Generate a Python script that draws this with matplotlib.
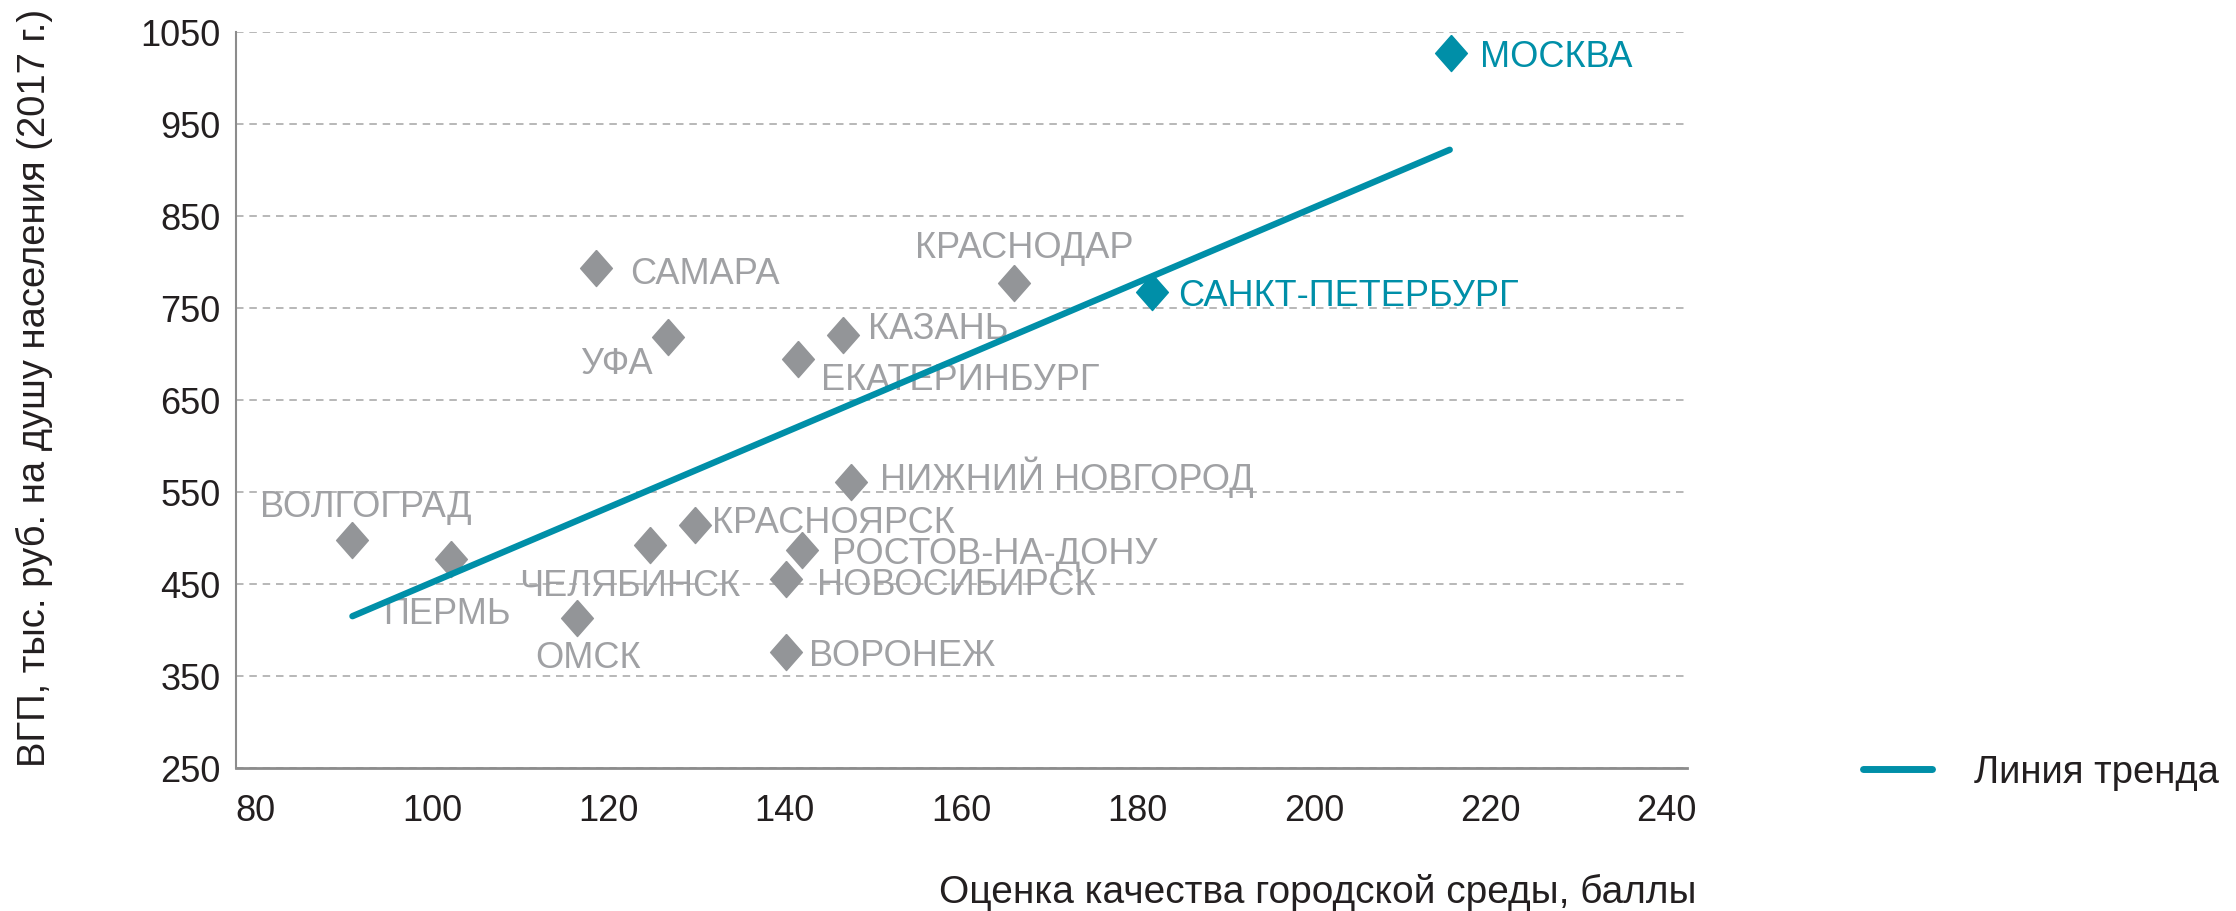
import matplotlib
matplotlib.use('Agg')
import matplotlib.pyplot as plt
from matplotlib.lines import Line2D

plt.rcParams['font.family'] = ['Liberation Sans', 'DejaVu Sans']

# city scores (x) vs GRP per capita (y)
cities = ['МОСКВА', 'САНКТ-ПЕТЕРБУРГ', 'КРАСНОДАР', 'САМАРА', 'УФА', 'КАЗАНЬ',
          'ЕКАТЕРИНБУРГ', 'НИЖНИЙ НОВГОРОД', 'КРАСНОЯРСК', 'РОСТОВ-НА-ДОНУ',
          'НОВОСИБИРСК', 'ЧЕЛЯБИНСК', 'ВОЛГОГРАД', 'ПЕРМЬ', 'ОМСК', 'ВОРОНЕЖ']
score = [215.5, 181.7, 166.0, 118.6, 126.8, 146.6,
         141.5, 147.5, 129.8, 142.0,
         140.2, 124.7, 91.0, 102.2, 116.5, 140.2]
grp = [1027, 767, 777, 793, 719, 721,
       695, 561, 514, 487,
       455, 492, 498, 477, 413, 376]
highlight = ['МОСКВА', 'САНКТ-ПЕТЕРБУРГ']

trend_x = [91.0, 215.4]
trend_y = [415, 922]

x_ticks = [80, 100, 120, 140, 160, 180, 200, 220, 240]
y_ticks = [250, 350, 450, 550, 650, 750, 850, 950, 1050]

# label offsets in pixels (dx right, dy down to cap centre), alignment
label_pos = {
    'МОСКВА': (29, 0, 'left'),
    'САНКТ-ПЕТЕРБУРГ': (26, 0, 'left'),
    'КРАСНОДАР': (10, -39, 'center'),
    'САМАРА': (34, 2, 'left'),
    'УФА': (-16, 23, 'right'),
    'КАЗАНЬ': (25, -10, 'left'),
    'ЕКАТЕРИНБУРГ': (23, 17, 'left'),
    'НИЖНИЙ НОВГОРОД': (29, -6, 'left'),
    'КРАСНОЯРСК': (17, -6, 'left'),
    'РОСТОВ-НА-ДОНУ': (30, 0, 'left'),
    'НОВОСИБИРСК': (31, 2, 'left'),
    'ЧЕЛЯБИНСК': (-20, 37, 'center'),
    'ВОЛГОГРАД': (13, -37, 'center'),
    'ПЕРМЬ': (-4, 51, 'center'),
    'ОМСК': (11, 36, 'center'),
    'ВОРОНЕЖ': (23, 0, 'left'),
}

TEAL = '#008fa8'
GREY_MARK = '#939598'
GREY_TEXT = '#a0a1a4'
DIAMOND = [(0, 1), (0.88, 0), (0, -1), (-0.88, 0), (0, 1)]

fig = plt.figure(figsize=(22.36, 9.12), dpi=100)
ax = fig.add_axes([236 / 2236, 1 - 769 / 912, (1687 - 236) / 2236, (769 - 33) / 912])

for name, x, y in zip(cities, score, grp):
    col = TEAL if name in highlight else GREY_MARK
    tcol = TEAL if name in highlight else GREY_TEXT
    ax.plot(x, y, marker=DIAMOND, markersize=26, color=col, linestyle='none', zorder=3)
    dx, dy, ha = label_pos[name]
    ax.annotate(name, (x, y), xytext=(dx, -(dy + 13)), textcoords='offset pixels',
                ha=ha, va='baseline', fontsize=26, color=tcol, zorder=3)

ax.plot(trend_x, trend_y, color=TEAL, lw=4.6, solid_capstyle='round', zorder=4,
        label='Линия тренда')

ax.set_xlim(77.8, 242.3)
ax.set_ylim(250, 1050)
ax.set_xticks(x_ticks)
ax.set_yticks(y_ticks)
ax.tick_params(length=0, labelsize=26, colors='#231f20')
ax.tick_params(axis='x', pad=18)
ax.tick_params(axis='y', pad=11)
ax.yaxis.grid(True, color='#ababab', lw=1.2, linestyle=(0, (4.5, 3.5)))
ax.set_axisbelow(True)
for s in ['top', 'right']:
    ax.spines[s].set_visible(False)
ax.spines['left'].set_color('#8c8c8c')
ax.spines['left'].set_linewidth(1.5)
ax.spines['bottom'].set_color('#8c8c8c')
ax.spines['bottom'].set_linewidth(2)

fig.text(34 / 2236, 1 - 388 / 912, 'ВГП, тыс. руб. на душу населения (2017 г.)',
         rotation=90, ha='center', va='center', fontsize=27.5, color='#231f20')
fig.text(1697 / 2236, 1 - 903 / 912, 'Оценка качества городской среды, баллы',
         ha='right', va='baseline', fontsize=28, color='#231f20')

fig.legend(handles=[Line2D([], [], color=TEAL, lw=5, solid_capstyle='round')],
           labels=['Линия тренда'], loc='center left',
           bbox_to_anchor=(1863 / 2236, 1 - 773 / 912), frameon=False,
           fontsize=27.5, handlelength=1.8, handletextpad=1.1, borderpad=0,
           borderaxespad=0, labelcolor='#231f20')

fig.savefig('out.png', dpi=100)
